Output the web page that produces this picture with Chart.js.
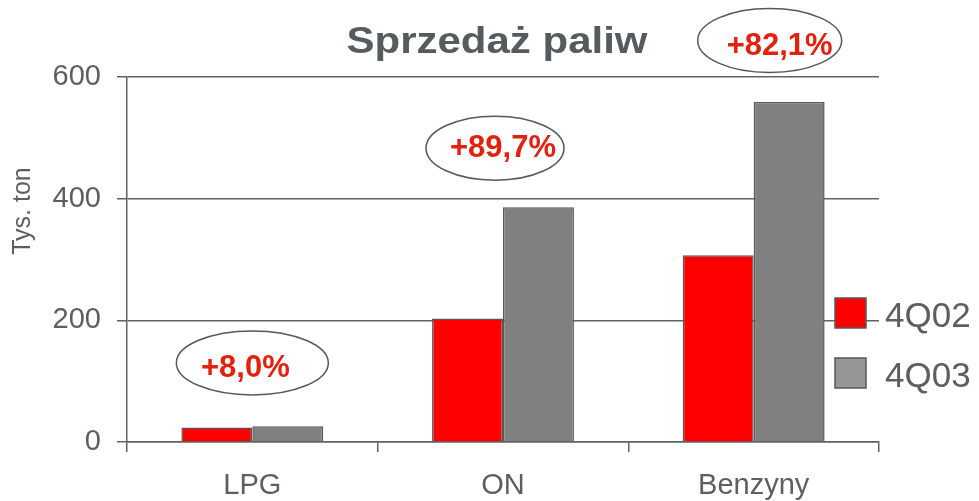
<!DOCTYPE html>
<html lang="pl">
<head>
  <meta charset="UTF-8">
  <title>Sprzedaż paliw</title>
  <style>
    html, body { margin: 0; padding: 0; background: #fff; }
    .chart-container { position: relative; width: 979px; height: 501px; }
  </style>
</head>
<body>
  <div class="chart-container">
    <canvas id="paliwa-chart"></canvas>
  </div>

  <script src="https://cdn.jsdelivr.net/npm/chart.js"></script>
  <script>
    var kategorie = ['LPG', 'ON', 'Benzyny'];
    var serie = ['4Q02', '4Q03'];
    var sprzedaz4Q02 = [24, 203, 307];
    var sprzedaz4Q03 = [26, 386, 559];
    var yTicks = [0, 200, 400, 600];
    var zmiany = ['+8,0%', '+89,7%', '+82,1%'];
    var tytul = 'Sprzedaż paliw';
    var jednostka = 'Tys. ton';

    // ellipse placement: y in chart units, shifts in px
    var dymki = [
      { y: 130, dx: 0, tdx: -7, ty: 14, rx: 76 },
      { y: 483, dx: -8, tdx: 0, ty: 9, rx: 69 },
      { y: 660, dx: 16, tdx: 26, ty: 14, rx: 72 }
    ];

    var szary = '#5b5f61';
    var czcionka = '"Liberation Sans", Arial, sans-serif';

    var dodatki = {
      id: 'dodatki',
      afterDatasetsDraw: function(chart) {
        var ctx = chart.ctx;
        var sx = chart.scales.x, sy = chart.scales.y;

        // title, stretched a bit like the original slide
        ctx.save();
        ctx.font = 'bold 36px ' + czcionka;
        ctx.fillStyle = '#565b5d';
        var w = ctx.measureText(tytul).width;
        ctx.translate(497, 53);
        ctx.scale(301 / w, 1);
        ctx.textAlign = 'center';
        ctx.textBaseline = 'alphabetic';
        ctx.fillText(tytul, 0, 0);
        ctx.restore();

        // y axis title
        ctx.save();
        ctx.font = '25px ' + czcionka;
        ctx.fillStyle = szary;
        ctx.translate(23, 211);
        ctx.rotate(-Math.PI / 2);
        ctx.textAlign = 'center';
        ctx.textBaseline = 'middle';
        ctx.fillText(jednostka, 0, 0);
        ctx.restore();

        // change labels in ellipses
        for (var i = 0; i < zmiany.length; i++) {
          var d = dymki[i];
          var cx = sx.getPixelForValue(i);
          var cy = sy.getPixelForValue(d.y);
          ctx.save();
          ctx.beginPath();
          ctx.ellipse(cx + d.dx, cy, d.rx, 32, 0, 0, Math.PI * 2);
          ctx.lineWidth = 1.5;
          ctx.strokeStyle = '#55595b';
          ctx.stroke();
          ctx.font = 'bold 31px ' + czcionka;
          ctx.fillStyle = '#e2210f';
          ctx.textAlign = 'center';
          ctx.textBaseline = 'alphabetic';
          ctx.fillText(zmiany[i], cx + d.tdx, cy + d.ty);
          ctx.restore();
        }

        // legend
        var kolory = ['#ff0000', '#969696'];
        chart.data.datasets.forEach(function(ds, k) {
          var top = 298 + k * 60;
          ctx.save();
          ctx.fillStyle = kolory[k];
          ctx.fillRect(835, top, 31, 30);
          ctx.lineWidth = 1.5;
          ctx.strokeStyle = '#55595b';
          ctx.strokeRect(835, top, 31, 30);
          ctx.font = '35px ' + czcionka;
          ctx.fillStyle = szary;
          ctx.textAlign = 'left';
          ctx.textBaseline = 'alphabetic';
          ctx.fillText(ds.label, 885, top + 29);
          ctx.restore();
        });
      }
    };

    document.addEventListener('DOMContentLoaded', function() {
      new Chart(document.getElementById('paliwa-chart'), {
        type: 'bar',
        data: {
          labels: kategorie,
          datasets: [{
            label: serie[0],
            data: sprzedaz4Q02,
            backgroundColor: '#ff0000',
            borderColor: '#55595b',
            borderWidth: 1.5
          }, {
            label: serie[1],
            data: sprzedaz4Q03,
            backgroundColor: '#808080',
            borderColor: '#55595b',
            borderWidth: 1.5
          }]
        },
        options: {
          responsive: true,
          maintainAspectRatio: false,
          animation: false,
          categoryPercentage: 0.566,
          barPercentage: 1,
          layout: { padding: { top: 77, right: 100, left: 0, bottom: 0 } },
          plugins: {
            legend: { display: false },
            title: { display: false },
            tooltip: { enabled: false }
          },
          scales: {
            x: {
              offset: true,
              grid: {
                offset: true,
                drawOnChartArea: false,
                drawTicks: true,
                tickLength: 10,
                color: '#5f6365',
                lineWidth: 1.5
              },
              border: { color: '#5f6365', width: 1.5 },
              ticks: {
                color: szary,
                font: { family: czcionka, size: 29 },
                padding: 17,
                maxRotation: 0
              },
              afterFit: function(scale) { scale.height = 59; }
            },
            y: {
              min: 0,
              max: 600,
              afterBuildTicks: function(scale) {
                scale.ticks = yTicks.map(function(v) { return { value: v }; });
              },
              grid: {
                color: '#5f6365',
                lineWidth: 1.5,
                drawTicks: true,
                tickLength: 10
              },
              border: { color: '#5f6365', width: 1.5 },
              ticks: {
                color: szary,
                font: { family: czcionka, size: 29 },
                padding: 16
              },
              afterFit: function(scale) { scale.width = 127; }
            }
          }
        },
        plugins: [dodatki]
      });
    });
  </script>
</body>
</html>
